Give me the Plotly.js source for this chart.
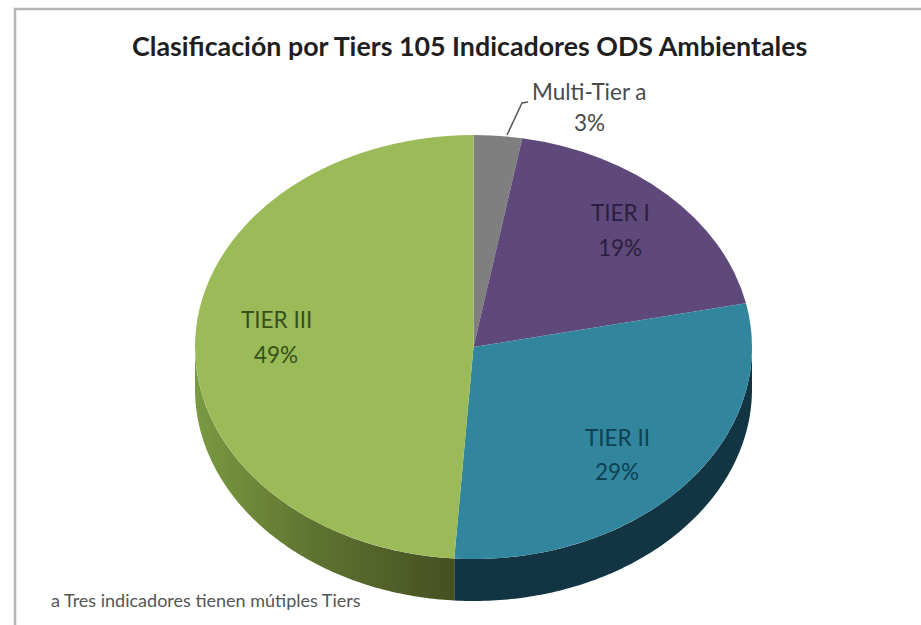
<!DOCTYPE html>
<html><head><meta charset="utf-8">
<script src="https://cdn.plot.ly/plotly-3.0.1.min.js"></script>
<style>html,body{margin:0;padding:0;background:#fff;overflow:hidden}#c{width:921px;height:625px}</style>
</head><body><div id="c"></div>
<script>
const categories = ['Multi-Tier a', 'TIER I', 'TIER II', 'TIER III'];
const shares = [2.8, 18.9, 29.4, 48.9];
const colors = ['#7f7f7f', '#5f497a', '#31859c', '#9bbb59'];
const labelColors = ['#4a4a4a', '#2a1f40', '#0e4153', '#37501a'];
const labelX = [589, 620, 617, 276];
const labelNameY = [91, 212, 437, 319];
const labelPctY = [122, 247, 471, 354];
const titleText = 'Clasificación por Tiers 105 Indicadores ODS Ambientales';
const footnote = 'a Tres indicadores tienen mútiples Tiers';

const W = 921, H = 625, cx = 473.5, cy = 347, rx = 278.5, ry = 212, depth = 42;
const FONT = 'Lato, "Open Sans", sans-serif';

const total = shares.reduce((a, b) => a + b, 0);
let acc = 0;
const bounds = shares.map(v => { const s = acc; acc += v; return [s / total * 360, acc / total * 360]; });

function wallTrace(i, fillProps) {
  const a0 = Math.max(bounds[i][0], 90), a1 = Math.min(bounds[i][1], 270);
  const xs = [], ys = [], n = 120;
  const pt = a => { const t = a * Math.PI / 180; return [cx + rx * Math.sin(t), cy - ry * Math.cos(t)]; };
  for (let k = 0; k <= n; k++) { const p = pt(a0 + (a1 - a0) * k / n); xs.push(p[0]); ys.push(p[1]); }
  for (let k = n; k >= 0; k--) { const p = pt(a0 + (a1 - a0) * k / n); xs.push(p[0]); ys.push(p[1] + depth); }
  return Object.assign({ type: 'scatter', mode: 'none', x: xs, y: ys, fill: 'toself', hoverinfo: 'skip', showlegend: false }, fillProps);
}

const traces = [
  wallTrace(2, { fillcolor: '#133543' }),
  wallTrace(3, { fillcolor: '#5e7030', fillgradient: { type: 'horizontal', colorscale: [[0, '#7a9a42'], [0.45, '#5f7431'], [1, '#454f20']] } }),
  {
    type: 'pie', labels: categories, values: shares, sort: false, direction: 'clockwise', rotation: 0,
    marker: { colors: colors, line: { width: 0 } }, textinfo: 'none', hoverinfo: 'skip', showlegend: false,
    domain: { x: [(cx - ry) / W, (cx + ry) / W], y: [(H - cy - ry) / H, (H - cy + ry) / H] }
  }
];

const annotations = [
  { x: 469, y: 46, text: '<b>' + titleText + '</b>', font: { size: 26.8, color: '#1f1f1f', family: FONT } },
  { x: 49, y: 600, xanchor: 'left', text: footnote, font: { size: 18, color: '#555555', family: FONT } }
];
categories.forEach((c, i) => {
  annotations.push({ x: labelX[i], y: labelNameY[i], text: c, font: { size: 22.5, color: labelColors[i], family: FONT } });
  annotations.push({ x: labelX[i], y: labelPctY[i], text: Math.round(shares[i]) + '%', font: { size: 22.5, color: labelColors[i], family: FONT } });
});
annotations.forEach(a => { a.xref = 'x'; a.yref = 'y'; a.showarrow = false; if (!a.xanchor) a.xanchor = 'center'; a.yanchor = 'middle'; });

const layout = {
  width: W, height: H, margin: { l: 0, r: 0, t: 0, b: 0 }, paper_bgcolor: '#fff', plot_bgcolor: '#fff', showlegend: false,
  xaxis: { range: [0, W], visible: false, fixedrange: true },
  yaxis: { range: [H, 0], visible: false, fixedrange: true },
  annotations: annotations,
  shapes: [
    { type: 'path', xref: 'x', yref: 'y', path: 'M 15 625 L 15 9 L 921 9', line: { color: '#b4b4b4', width: 2.5 }, layer: 'above' },
    { type: 'path', xref: 'x', yref: 'y', path: 'M 507 135 L 522 103 L 528 102', line: { color: '#595959', width: 1.5 }, layer: 'above' }
  ]
};

const gd = document.getElementById('c');
function stretch() {
  const g = gd.querySelector('.pielayer');
  if (g) g.setAttribute('transform', `translate(${cx},0) scale(${rx / ry},1) translate(${-cx},0)`);
}
Plotly.newPlot(gd, traces, layout, { staticPlot: true, displayModeBar: false }).then(stretch);
</script></body></html>
